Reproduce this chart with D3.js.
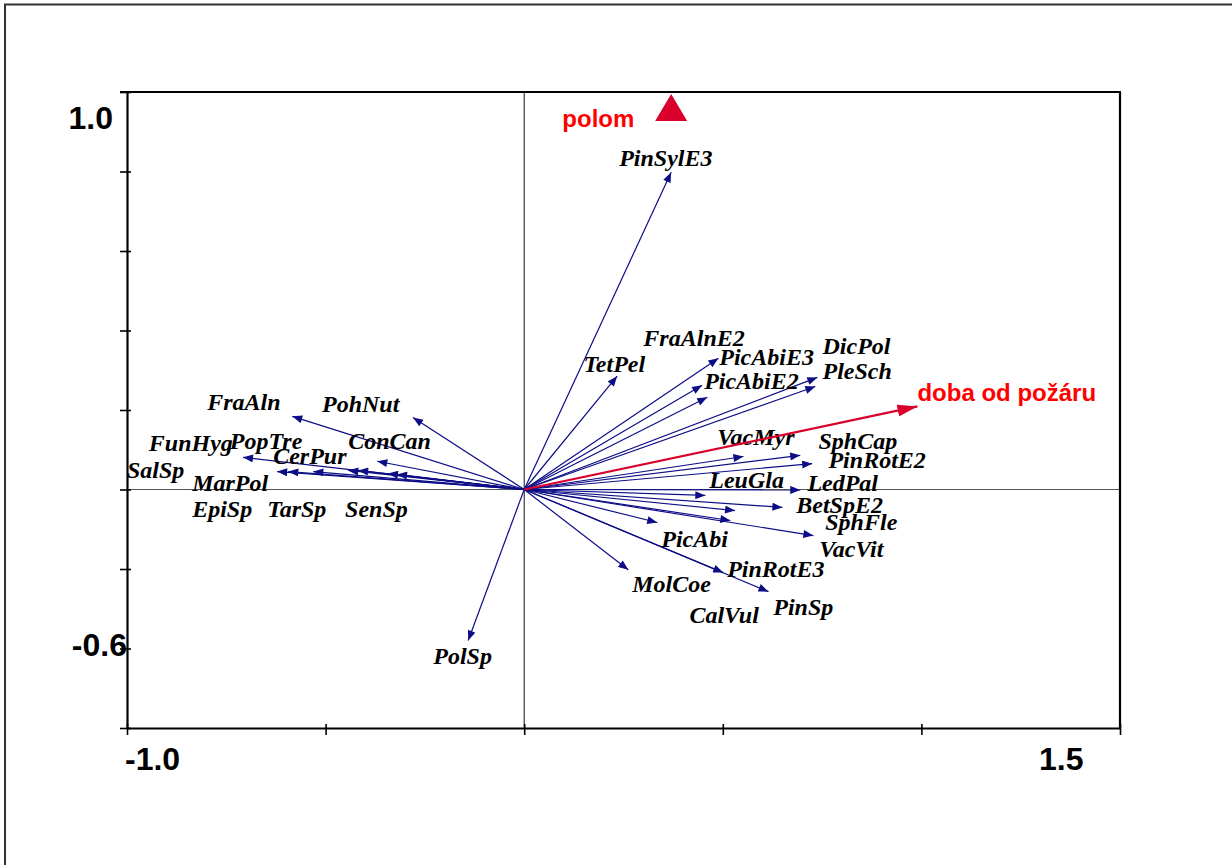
<!DOCTYPE html>
<html>
<head>
<meta charset="utf-8">
<script src="https://cdn.jsdelivr.net/npm/d3@7/dist/d3.min.js"></script>
<style>
  html, body { margin: 0; padding: 0; background: #fff; }
  svg { display: block; }
</style>
</head>
<body>
<svg id="chart" width="1232" height="865"></svg>
<script>
// Species scores (arrow tips) in ordination space
const species = ["PinSylE3", "TetPel", "FraAlnE2", "PicAbiE3", "PicAbiE2", "DicPol", "PleSch",
  "VacMyr", "SphCap", "PinRotE2", "LedPal", "LeuGla", "BetSpE2", "SphFle", "CalVul", "VacVit",
  "PicAbi", "MolCoe", "PinRotE3", "PinSp", "PolSp",
  "FraAln", "PohNut", "FunHyg", "ConCan", "SalSp", "MarPol", "EpiSp", "PopTre", "CerPur", "TarSp", "SenSp"];
const speciesX = [0.370, 0.234, 0.489, 0.448, 0.461, 0.738, 0.733,
  0.552, 0.695, 0.725, 0.695, 0.456, 0.650, 0.531, 0.519, 0.728,
  0.335, 0.262, 0.501, 0.615, -0.141,
  -0.584, -0.280, -0.708, -0.370, -0.622, -0.594, -0.531, -0.443, -0.418, -0.343, -0.320];
const speciesY = [0.798, 0.285, 0.330, 0.262, 0.232, 0.282, 0.259,
  0.083, 0.086, 0.065, -0.001, -0.015, -0.045, -0.053, -0.078, -0.116,
  -0.083, -0.202, -0.209, -0.257, -0.380,
  0.184, 0.181, 0.081, 0.071, 0.045, 0.045, 0.045, 0.048, 0.048, 0.040, 0.038];
// Label anchors (start of text baseline) in ordination space
const labelX = [0.239, 0.149, 0.300, 0.491, 0.453, 0.751, 0.751,
  0.486, 0.741, 0.766, 0.713, 0.466, 0.685, 0.758, 0.416, 0.743,
  0.345, 0.272, 0.511, 0.627, -0.229,
  -0.798, -0.509, -0.945, -0.443, -1.000, -0.836, -0.836, -0.741, -0.632, -0.647, -0.451];
const labelY = [0.814, 0.295, 0.360, 0.312, 0.252, 0.340, 0.277,
  0.113, 0.101, 0.053, -0.003, 0.003, -0.058, -0.103, -0.335, -0.171,
  -0.144, -0.259, -0.219, -0.315, -0.438,
  0.199, 0.196, 0.096, 0.103, 0.030, -0.005, -0.068, 0.101, 0.065, -0.068, -0.068];

// Quantitative environmental variable
const envNames = ["doba od požáru"];
const envX = [0.990];
const envY = [0.209];
const envLabelX = [0.990];
const envLabelY = [0.222];

// Nominal environmental variable (centroid)
const nominalNames = ["polom"];
const nominalX = [0.370];
const nominalY = [0.950];
const nominalLabelX = [0.096];
const nominalLabelY = [0.912];

// Axes
const xDomain = [-1.0, 1.5];
const yDomain = [-0.6, 1.0];
const xTicks = [-1.0, -0.5, 0, 0.5, 1.0, 1.5];
const yTicks = [-0.6, -0.4, -0.2, 0, 0.2, 0.4, 0.6, 0.8, 1.0];
const xTickLabels = ["-1.0", "1.5"];
const yTickLabels = ["1.0", "-0.6"];

const svg = d3.select("#chart");
const plotLeft = 127, plotRight = 1120, plotTop = 92, plotBottom = 728;
const x = d3.scaleLinear().domain(xDomain).range([plotLeft, plotRight]);
const y = d3.scaleLinear().domain(yDomain).range([plotBottom, plotTop]);

// Outer page frame
svg.append("path")
  .attr("d", `M5,870 L5,4.5 L1240,4.5`)
  .attr("fill", "none").attr("stroke", "#333").attr("stroke-width", 2);

const defs = svg.append("defs");
defs.append("marker").attr("id", "headSp")
  .attr("markerUnits", "userSpaceOnUse")
  .attr("viewBox", "0 0 10 8").attr("refX", 10).attr("refY", 4)
  .attr("markerWidth", 11).attr("markerHeight", 8).attr("orient", "auto")
  .append("path").attr("d", "M0,0 L10,4 L0,8 Z").attr("fill", "#0d0d86");
defs.append("marker").attr("id", "headEnv")
  .attr("markerUnits", "userSpaceOnUse")
  .attr("viewBox", "0 0 20 12").attr("refX", 20).attr("refY", 6)
  .attr("markerWidth", 20).attr("markerHeight", 12).attr("orient", "auto")
  .append("path").attr("d", "M0,0 L20,6 L0,12 Z").attr("fill", "#d9002b");

// Zero lines
svg.append("line")
  .attr("x1", x(0)).attr("x2", x(0)).attr("y1", plotTop).attr("y2", plotBottom)
  .attr("stroke", "#111").attr("stroke-width", 1);
svg.append("line")
  .attr("x1", plotLeft).attr("x2", plotRight).attr("y1", y(0)).attr("y2", y(0))
  .attr("stroke", "#555").attr("stroke-width", 1);

// Frame axes
const axisL = svg.append("g").attr("transform", `translate(${plotLeft},0)`)
  .call(d3.axisLeft(y).tickValues(yTicks).tickFormat("").tickSizeInner(7).tickSizeOuter(0));
const axisB = svg.append("g").attr("transform", `translate(0,${plotBottom})`)
  .call(d3.axisBottom(x).tickValues(xTicks).tickFormat("").tickSizeInner(7).tickSizeOuter(0));
[axisL, axisB].forEach(g => {
  g.select(".domain").attr("stroke", "#000").attr("stroke-width", 2.2);
  g.selectAll(".tick line").attr("stroke", "#000").attr("stroke-width", 1.6);
});
axisL.selectAll(".tick line").attr("x1", 4);
axisB.selectAll(".tick line").attr("y1", -4);
svg.append("line").attr("x1", plotLeft - 7).attr("x2", plotRight + 1).attr("y1", plotTop).attr("y2", plotTop)
  .attr("stroke", "#000").attr("stroke-width", 2.2);
svg.append("line").attr("x1", plotRight).attr("x2", plotRight).attr("y1", plotTop).attr("y2", plotBottom)
  .attr("stroke", "#000").attr("stroke-width", 2.2);

// Tick labels at the axis ends
const sansFont = "'Liberation Sans', Arial, sans-serif";
svg.append("text").text(yTickLabels[0])
  .attr("x", plotLeft - 14).attr("y", y(1.0) + 37)
  .attr("text-anchor", "end").attr("font-family", sansFont)
  .attr("font-weight", "bold").attr("font-size", 32);
svg.append("text").text(yTickLabels[1])
  .attr("x", plotLeft).attr("y", y(-0.6) - 72)
  .attr("text-anchor", "end").attr("font-family", sansFont)
  .attr("font-weight", "bold").attr("font-size", 32);
svg.append("text").text(xTickLabels[0])
  .attr("x", x(-1.0) - 2).attr("y", plotBottom + 42)
  .attr("font-family", sansFont)
  .attr("font-weight", "bold").attr("font-size", 32);
svg.append("text").text(xTickLabels[1])
  .attr("x", x(1.5) - 81).attr("y", plotBottom + 42)
  .attr("font-family", sansFont)
  .attr("font-weight", "bold").attr("font-size", 32);

// Species arrows
const spData = species.map((name, i) => ({
  name, x: speciesX[i], y: speciesY[i], lx: labelX[i], ly: labelY[i]
}));
svg.append("g").selectAll("line").data(spData).join("line")
  .attr("x1", x(0)).attr("y1", y(0))
  .attr("x2", d => x(d.x)).attr("y2", d => y(d.y))
  .attr("stroke", "#0d0d86").attr("stroke-width", 1.2)
  .attr("marker-end", "url(#headSp)");
svg.append("g").selectAll("text").data(spData).join("text")
  .attr("x", d => x(d.lx)).attr("y", d => y(d.ly))
  .text(d => d.name)
  .attr("font-family", "'Liberation Serif', 'Times New Roman', serif")
  .attr("font-style", "italic").attr("font-weight", "bold")
  .attr("font-size", 24).attr("fill", "#000");

// Environmental arrow
const envData = envNames.map((name, i) => ({
  name, x: envX[i], y: envY[i], lx: envLabelX[i], ly: envLabelY[i]
}));
svg.append("g").selectAll("line").data(envData).join("line")
  .attr("x1", x(0)).attr("y1", y(0))
  .attr("x2", d => x(d.x)).attr("y2", d => y(d.y))
  .attr("stroke", "#d9002b").attr("stroke-width", 2.2)
  .attr("marker-end", "url(#headEnv)");
svg.append("g").selectAll("text").data(envData).join("text")
  .attr("x", d => x(d.lx)).attr("y", d => y(d.ly))
  .text(d => d.name)
  .attr("font-family", sansFont).attr("font-weight", "bold")
  .attr("font-size", 24).attr("fill", "#ff0000");

// Nominal variable centroid
const nomData = nominalNames.map((name, i) => ({
  name, x: nominalX[i], y: nominalY[i], lx: nominalLabelX[i], ly: nominalLabelY[i]
}));
svg.append("g").selectAll("path").data(nomData).join("path")
  .attr("transform", d => `translate(${x(d.x)},${y(d.y)})`)
  .attr("d", "M0,-18 L16,9 L-16,9 Z")
  .attr("fill", "#d9002b");
svg.append("g").selectAll("text").data(nomData).join("text")
  .attr("x", d => x(d.lx)).attr("y", d => y(d.ly))
  .text(d => d.name)
  .attr("font-family", sansFont).attr("font-weight", "bold")
  .attr("font-size", 24).attr("fill", "#ff0000");
</script>
</body>
</html>
